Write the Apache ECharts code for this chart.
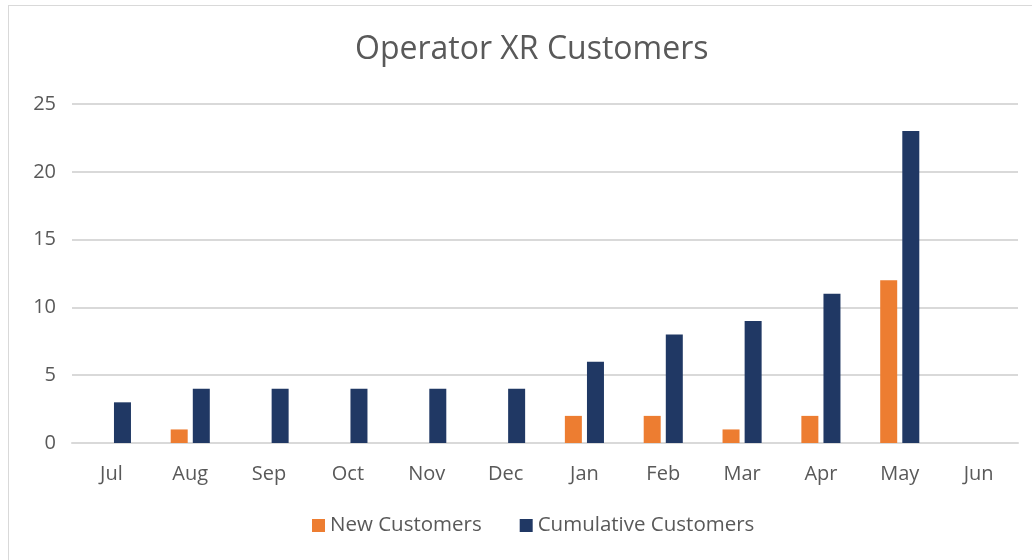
<!DOCTYPE html>
<html>
<head>
<meta charset="utf-8">
<script src="https://cdn.jsdelivr.net/npm/echarts@6/dist/echarts.min.js"></script>
<style>
  html, body { margin: 0; padding: 0; background: #fff; }
  #frame { position: absolute; left: 8px; top: 5px; width: 1040px; height: 570px; border: 1px solid #d9d9d9; }
  #chart { position: absolute; left: 0; top: 0; width: 1032px; height: 560px; }
</style>
</head>
<body>
<div id="frame"></div>
<div id="chart"></div>
<script>
// months, fiscal year order
var months = ['Jul', 'Aug', 'Sep', 'Oct', 'Nov', 'Dec', 'Jan', 'Feb', 'Mar', 'Apr', 'May', 'Jun'];
var newCustomers = [0, 1, 0, 0, 0, 0, 2, 2, 1, 2, 12, 0];
var cumulativeCustomers = [3, 4, 4, 4, 4, 4, 6, 8, 9, 11, 23, null];

var font = '"Open Sans", Lato, sans-serif';

var chart = echarts.init(document.getElementById('chart'));
chart.setOption({
    animation: false,
    title: {
        text: 'Operator XR Customers',
        left: 350,
        top: 29,
        textStyle: { fontFamily: font, fontSize: 32, fontWeight: 'normal', color: '#595959' }
    },
    legend: {
        bottom: 19,
        left: 307,
        itemWidth: 13,
        itemHeight: 13,
        itemGap: 38,
        icon: 'rect',
        textStyle: { fontFamily: font, fontSize: 20.5, color: '#595959' },
        data: ['New Customers', 'Cumulative Customers']
    },
    grid: { left: 72, top: 104, width: 946, height: 339, containLabel: false },
    xAxis: {
        type: 'category',
        data: months,
        axisLine: { lineStyle: { color: '#d9d9d9', width: 2 } },
        axisTick: { show: false },
        axisLabel: { fontFamily: font, fontSize: 20, color: '#595959', margin: 21 }
    },
    yAxis: {
        type: 'value',
        min: 0,
        max: 25,
        interval: 5,
        axisLine: { show: false },
        axisTick: { show: false },
        splitLine: { lineStyle: { color: '#d9d9d9', width: 2 } },
        axisLabel: { fontFamily: font, fontSize: 20, color: '#595959', margin: 16 }
    },
    series: [
        {
            name: 'New Customers',
            type: 'bar',
            data: newCustomers,
            barWidth: 17,
            barGap: '30%',
            itemStyle: { color: '#ED7D31' }
        },
        {
            name: 'Cumulative Customers',
            type: 'bar',
            data: cumulativeCustomers,
            barWidth: 17,
            barGap: '30%',
            itemStyle: { color: '#203864' }
        }
    ]
});
</script>
</body>
</html>
